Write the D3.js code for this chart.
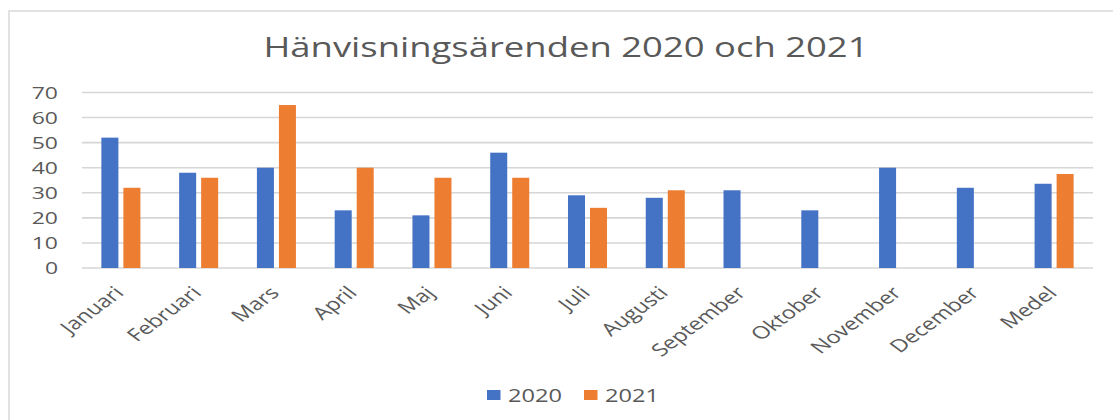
<!DOCTYPE html>
<html>
<head>
<meta charset="utf-8">
<script src="https://cdn.jsdelivr.net/npm/d3@7"></script>
<style>
  html, body { margin: 0; padding: 0; background: #fff; }
  svg { display: block; }
  text { font-family: "Open Sans", "DejaVu Sans", sans-serif; fill: #595959; }
</style>
</head>
<body>
<svg id="chart" width="1113" height="420"></svg>
<script>
const chartTitle = "Hänvisningsärenden 2020 och 2021";
const categories = ["Januari","Februari","Mars","April","Maj","Juni","Juli","Augusti","September","Oktober","November","December","Medel"];
const seriesNames = ["2020","2021"];
const values2020 = [52, 38, 40, 23, 21, 46, 29, 28, 31, 23, 40, 32, 33.6];
const values2021 = [32, 36, 65, 40, 36, 36, 24, 31, null, null, null, null, 37.5];
const yTicks = [0, 10, 20, 30, 40, 50, 60, 70];
const colors = ["#4472C4", "#ED7D31"];

const seriesValues = [values2020, values2021];
const SX = 1.35; // horizontal stretch of the reference image

const svg = d3.select("#chart");
const W = 1113, H = 420;
const plot = { left: 82, right: 1093, top: 92.5, bottom: 268 };

// outer chart border
svg.append("rect")
  .attr("x", 9).attr("y", 11)
  .attr("width", W + 20).attr("height", H + 20)
  .attr("fill", "none").attr("stroke", "#d9d9d9").attr("stroke-width", 1.5);

const x0 = d3.scaleBand().domain(categories).range([plot.left, plot.right]).padding(0);
const x1 = d3.scaleBand().domain(seriesNames).range([0, x0.bandwidth()])
  .paddingInner(0.227).paddingOuter(0.88);
const y = d3.scaleLinear().domain([0, 70]).range([plot.bottom, plot.top]);

// gridlines
svg.append("g").selectAll("line").data(yTicks).join("line")
  .attr("x1", plot.left).attr("x2", plot.right)
  .attr("y1", d => y(d)).attr("y2", d => y(d))
  .attr("stroke", "#d6d6d6").attr("stroke-width", 1.6);

// y-axis labels
svg.append("g").selectAll("text").data(yTicks).join("text")
  .attr("transform", d => `translate(58,${y(d) + 6}) scale(${SX},1)`)
  .attr("text-anchor", "end")
  .style("font-size", "17px")
  .text(d => d);

// bars
const groups = svg.append("g").selectAll("g").data(categories).join("g")
  .attr("transform", d => `translate(${x0(d)},0)`);
groups.selectAll("rect")
  .data((c, i) => seriesNames.map((s, si) => ({ s, v: seriesValues[si][i], color: colors[si] })).filter(d => d.v != null))
  .join("rect")
  .attr("x", d => x1(d.s))
  .attr("width", x1.bandwidth())
  .attr("y", d => y(d.v))
  .attr("height", d => y(0) - y(d.v))
  .attr("fill", d => d.color);

// x labels
svg.append("g").selectAll("text").data(categories).join("text")
  .attr("transform", d => `translate(${x0(d) + x0.bandwidth() / 2 + 4},${plot.bottom + 26}) scale(${SX},1) rotate(-45)`)
  .attr("text-anchor", "end")
  .style("font-size", "17.5px")
  .text(d => d);

// title
svg.append("text")
  .attr("transform", `translate(566,57) scale(${SX},1)`)
  .attr("text-anchor", "middle")
  .style("font-size", "27px")
  .text(chartTitle);

// legend
const legendX = [487, 584];
const leg = svg.append("g").selectAll("g").data(seriesNames).join("g")
  .attr("transform", (d, i) => `translate(${legendX[i]},390)`);
leg.append("rect").attr("width", 13.5).attr("height", 10).attr("fill", (d, i) => colors[i]);
leg.append("text")
  .attr("transform", `translate(21,11.8) scale(${SX},1)`)
  .style("font-size", "17.5px")
  .text(d => d);
</script>
</body>
</html>
